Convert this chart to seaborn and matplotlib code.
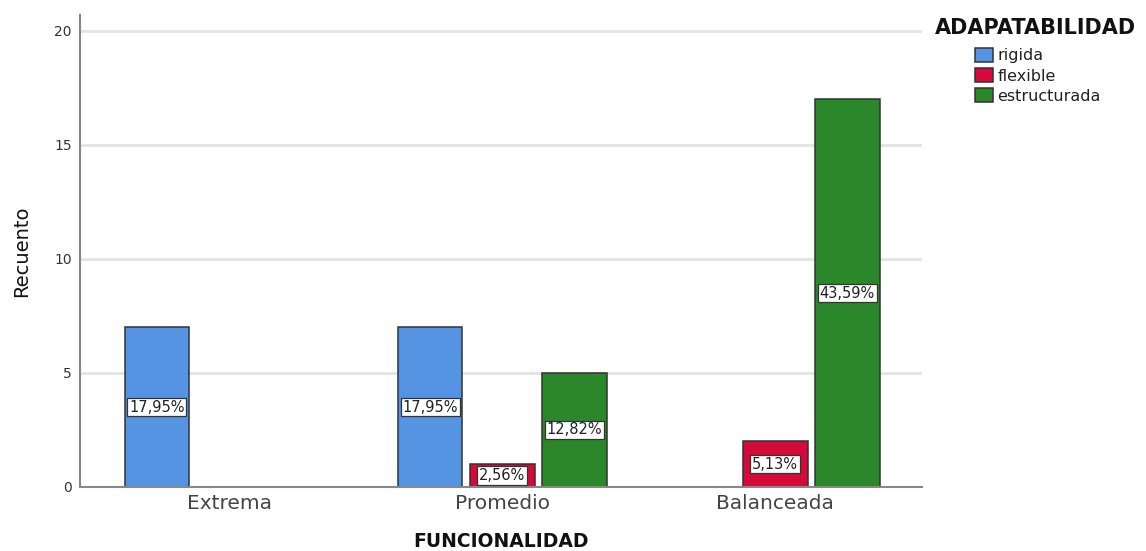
import matplotlib
matplotlib.use("Agg")
import matplotlib.pyplot as plt
import seaborn as sns
import pandas as pd

categories = ["Extrema", "Promedio", "Balanceada"]
series = ["rigida", "flexible", "estructurada"]
rigida = [7, 7, 0]
flexible = [0, 1, 2]
estructurada = [0, 5, 17]
total = 39
colors = ["#5494E3", "#D5093A", "#2A872A"]

rows = []
for name, vals in zip(series, [rigida, flexible, estructurada]):
    for c, v in zip(categories, vals):
        rows.append({"FUNCIONALIDAD": c, "ADAPATABILIDAD": name, "Recuento": v})
df = pd.DataFrame(rows)

sns.set_style("white")
plt.rcParams['font.family'] = ['DejaVu Sans']

fig = plt.figure(figsize=(11.46, 5.51), dpi=100)
ax = fig.add_axes([80/1146, 1-487/551, (922-80)/1146, (487-15)/551])

sns.barplot(data=df, x="FUNCIONALIDAD", y="Recuento", hue="ADAPATABILIDAD",
            hue_order=series, order=categories, palette=colors,
            width=0.792, gap=0.1, edgecolor="#333333", linewidth=1.1,
            saturation=1, ax=ax, errorbar=None)

ax.set_ylim(0, 20.7)
ax.set_xlim(-0.546, 2.538)
ax.set_yticks([0, 5, 10, 15, 20])
ax.yaxis.grid(True, color="#E3E3E3", linewidth=2)
ax.set_axisbelow(True)
for s in ["top", "right"]:
    ax.spines[s].set_visible(False)
ax.spines["left"].set_color("#888888")
ax.spines["bottom"].set_color("#888888")
ax.spines["left"].set_linewidth(1.5)
ax.spines["bottom"].set_linewidth(1.5)
ax.tick_params(axis="y", length=0, labelsize=10, colors="#333333", pad=6)
ax.tick_params(axis="x", length=0, labelsize=14.5, colors="#444444", pad=5)

for cont in ax.containers:
    for bar in cont:
        h = bar.get_height()
        if h > 0:
            ax.text(bar.get_x() + bar.get_width()/2, h/2,
                    f"{h/total*100:.2f}%".replace(".", ","),
                    ha="center", va="center", fontsize=10.5, color="#222222",
                    bbox=dict(boxstyle="square,pad=0.12", fc="white", ec="#333333", lw=0.9))

ax.set_ylabel("Recuento", fontsize=14, color="#111111")
ax.yaxis.set_label_coords(-0.058, 0.5)
ax.set_xlabel("FUNCIONALIDAD", fontsize=13.5, fontweight="bold", color="#111111")
ax.xaxis.set_label_coords(0.5, -0.096)

handles, labels = ax.get_legend_handles_labels()
ax.get_legend().remove()
fig.text(935/1146, 1-28/551, "ADAPATABILIDAD", fontsize=15, fontweight="bold",
         color="#111111", ha="left", va="center")
leg = fig.legend(handles, labels, loc="upper left",
                 bbox_to_anchor=(975/1146, 1-48/551), frameon=False,
                 fontsize=11.5, labelcolor="#222222",
                 handlelength=1.15, handleheight=0.95, handletextpad=0.25,
                 labelspacing=0.3, borderaxespad=0, borderpad=0)

fig.savefig("out.png", dpi=100)
